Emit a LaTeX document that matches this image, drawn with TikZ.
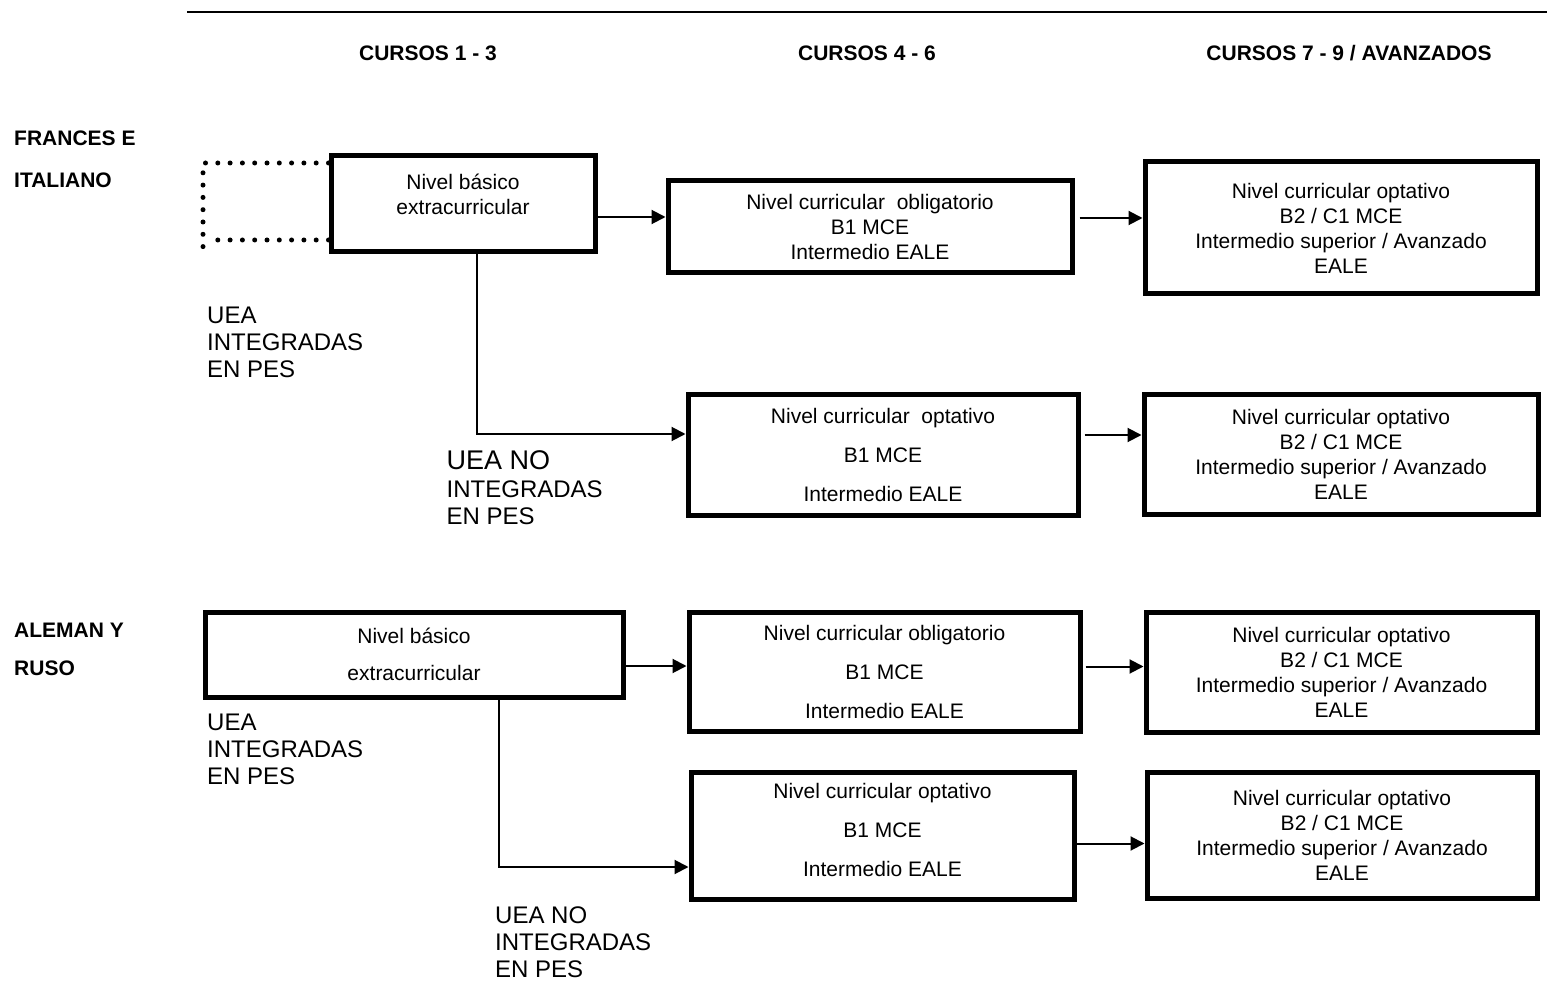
\documentclass[tikz,border=0pt]{standalone}
\usepackage{fontspec}
\setmainfont{Liberation Sans}
\usetikzlibrary{arrows.meta,positioning}

\newcommand{\boxfont}{\fontsize{21}{25}\selectfont}
\newcommand{\headfont}{\fontsize{21}{25}\selectfont\bfseries}
\newcommand{\ueafont}{\fontsize{24}{27}\selectfont}

\begin{document}
\begin{tikzpicture}[
    x=1pt, y=-1pt,
    stagebox/.style={rectangle, draw=black, line width=5pt, align=center, inner sep=0pt, font=\boxfont},
    heading/.style={anchor=base, inner sep=0pt, font=\headfont},
    language/.style={anchor=base west, inner sep=0pt, font=\headfont},
    uea/.style={anchor=north west, inner sep=0pt, align=left, font=\ueafont},
    arrow/.style={line width=2pt, -{Triangle[length=14pt,width=14pt]}},
    dotline/.style={line width=5pt, line cap=round, dash pattern=on 0pt off 12.3pt}
]
\useasboundingbox (0,0) rectangle (1547,981);

% Top rule and headings
\coordinate (rule_l) at (187,12);
\coordinate (rule_r) at (1547,12);
\draw[line width=2.5pt] (rule_l) -- (rule_r);
\node[heading] (cursos_a) at (428,60.5) {CURSOS 1 - 3};
\node[heading] (cursos_b) at (867,60.5) {CURSOS 4 - 6};
\node[heading] (cursos_c) at (1349,60.5) {CURSOS 7 - 9 / AVANZADOS};

% Languages
\node[language] (lang_fi) at (14,145.5) {FRANCES E};
\node[language] (lang_it) at (14,187.5) {ITALIANO};
\node[language] (lang_al) at (14,637.5) {ALEMAN Y};
\node[language] (lang_ru) at (14,675.5) {RUSO};

% Frances e italiano
\node[stagebox, minimum width=264pt, minimum height=96pt, text depth=20pt] (fi_basico) at (463,204) {Nivel básico\\extracurricular};
\node[stagebox, minimum width=404pt, minimum height=92pt] (fi_oblig) at (870,227) {Nivel curricular\ \ obligatorio\\B1 MCE\\Intermedio EALE};
\node[stagebox, minimum width=392pt, minimum height=132pt] (fi_avanz) at (1341,228) {Nivel curricular optativo\\B2 / C1 MCE\\Intermedio superior / Avanzado\\EALE};
\node[stagebox, minimum width=390pt, minimum height=121pt] (fi_optat) at (883,454.5) {Nivel curricular\ \ optativo\\[14pt]B1 MCE\\[14pt]Intermedio EALE};
\node[stagebox, minimum width=394pt, minimum height=120pt] (fi_optav) at (1341,454) {Nivel curricular optativo\\B2 / C1 MCE\\Intermedio superior / Avanzado\\EALE};

\node[uea] (fi_integ) at (207,306.5) {UEA\\INTEGRADAS\\EN PES};
\node[uea] (fi_noint) at (446.5,450.3) {{\fontsize{27}{28}\selectfont UEA NO}\\[1pt]INTEGRADAS\\EN PES};

% Aleman y ruso
\node[stagebox, minimum width=418pt, minimum height=85pt] (ar_basico) at (414,654.5) {Nivel básico\\[12pt]extracurricular};
\node[stagebox, minimum width=391pt, minimum height=119pt] (ar_oblig) at (884.5,671.5) {Nivel curricular obligatorio\\[14pt]B1 MCE\\[14pt]Intermedio EALE};
\node[stagebox, minimum width=391pt, minimum height=120pt] (ar_avanz) at (1341.5,672) {Nivel curricular optativo\\B2 / C1 MCE\\Intermedio superior / Avanzado\\EALE};
\node[stagebox, minimum width=383pt, minimum height=127pt, text depth=11pt] (ar_optat) at (882.5,835.5) {Nivel curricular optativo\\[14pt]B1 MCE\\[14pt]Intermedio EALE};
\node[stagebox, minimum width=390pt, minimum height=126pt] (ar_optav) at (1342,835) {Nivel curricular optativo\\B2 / C1 MCE\\Intermedio superior / Avanzado\\EALE};

\node[uea] (ar_integ) at (207,713.4) {UEA\\INTEGRADAS\\EN PES};
\node[uea] (ar_noint) at (495,906.4) {UEA NO\\INTEGRADAS\\EN PES};

% Dotted frame
\coordinate (fi_dotcorner) at (203,248);
\draw[dotline] ([yshift=41pt]fi_basico.west) -| (fi_dotcorner);
\draw[dotline] ([yshift=-36pt]fi_basico.west) -- ++(-118,0);

% Arrows
\draw[arrow] ([yshift=-13pt]fi_basico.east) -- ([yshift=-13pt]fi_basico.east -| fi_oblig.west);
\draw[arrow] ([xshift=5pt,yshift=9pt]fi_oblig.east) -- ([yshift=9pt]fi_oblig.east -| fi_avanz.west);
\draw[arrow] ([xshift=14pt]fi_basico.south) |- ([yshift=20.5pt]fi_optat.west);
\draw[arrow] ([xshift=4pt,yshift=19.5pt]fi_optat.east) -- ([yshift=19.5pt]fi_optat.east -| fi_optav.west);
\draw[arrow] ([yshift=-11.5pt]ar_basico.east) -- ([yshift=-11.5pt]ar_basico.east -| ar_oblig.west);
\draw[arrow] ([xshift=3pt,yshift=5pt]ar_oblig.east) -- ([yshift=5pt]ar_oblig.east -| ar_avanz.west);
\draw[arrow] ([xshift=85pt]ar_basico.south) |- ([yshift=-31.5pt]ar_optat.west);
\draw[arrow] ([yshift=-8pt]ar_optat.east) -- ([yshift=-8pt]ar_optat.east -| ar_optav.west);

\end{tikzpicture}
\end{document}
